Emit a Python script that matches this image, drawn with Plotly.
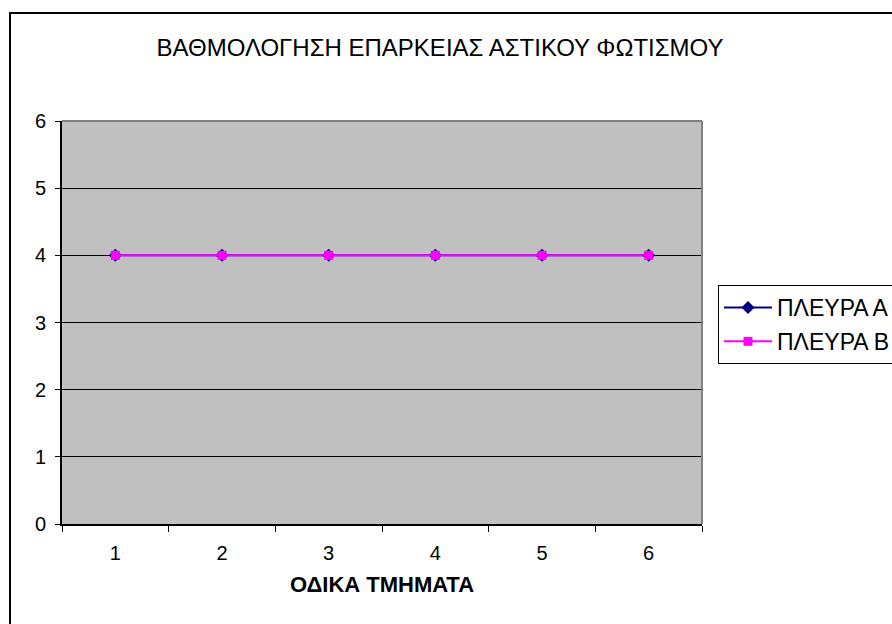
import plotly.graph_objects as go

categories = ["1", "2", "3", "4", "5", "6"]
series_a = [4, 4, 4, 4, 4, 4]
series_b = [4, 4, 4, 4, 4, 4]
name_a = "ΠΛΕΥΡΑ Α"
name_b = "ΠΛΕΥΡΑ Β"
title_text = "ΒΑΘΜΟΛΟΓΗΣΗ ΕΠΑΡΚΕΙΑΣ ΑΣΤΙΚΟΥ ΦΩΤΙΣΜΟΥ"
x_title = "ΟΔΙΚΑ ΤΜΗΜΑΤΑ"
y_ticks = [0, 1, 2, 3, 4, 5, 6]

FONT = "Arial, Liberation Sans, sans-serif"

fig = go.Figure()
fig.add_trace(go.Scatter(
    x=categories, y=series_a, name=name_a, mode="lines+markers",
    legendgroup="a",
    line=dict(color="#000080", width=2),
    marker=dict(symbol="diamond", size=10, color="#000080"),
))
fig.add_trace(go.Scatter(
    x=categories, y=series_b, name=name_b, mode="lines+markers",
    legendgroup="b",
    line=dict(color="#FF00FF", width=2),
    marker=dict(symbol="square", size=9, color="#FF00FF"),
))

W, H = 892, 624
L, R, T, B = 62, 190, 121, 100
pw, ph = W - L - R, H - T - B

def px2x(px):
    return (px - L) / pw

def px2y(py):
    return (H - B - py) / ph

fig.update_layout(
    width=W, height=H,
    margin=dict(l=L, r=R, t=T, b=B),
    paper_bgcolor="white",
    plot_bgcolor="#C0C0C0",
    font=dict(family=FONT, size=20, color="black"),
    title=dict(text=title_text, x=440 / W, xanchor="center",
               y=1 - 48 / H, yanchor="middle", yref="container",
               font=dict(size=24, family=FONT, color="black")),
    showlegend=True,
    legend=dict(xref="container", yref="container",
                x=718 / W, y=1 - 285 / H,
                xanchor="left", yanchor="top",
                bgcolor="white", bordercolor="black", borderwidth=1,
                font=dict(size=23, family=FONT), tracegroupgap=1,
                itemwidth=48),
    xaxis=dict(type="category", range=[-0.5, 5.5], tickson="boundaries",
               ticks="outside", ticklen=6, tickcolor="black", tickwidth=1,
               showline=True, linecolor="black", linewidth=2,
               showgrid=False, zeroline=False, ticklabelstandoff=10,
               tickfont=dict(size=20),
               title=dict(text="<b>" + x_title + "</b>", font=dict(size=22), standoff=14)),
    yaxis=dict(range=[0, 6], tickvals=y_ticks, ticks="outside", ticklen=5,
               tickcolor="black", showline=True, linecolor="black", linewidth=2,
               showgrid=True, gridcolor="black", gridwidth=1, zeroline=False,
               ticklabelstandoff=5, tickfont=dict(size=20)),
)

# plot-area top/right edges (gray)
fig.add_shape(type="line", xref="paper", yref="paper", x0=0, x1=1, y0=1, y1=1,
              line=dict(color="#808080", width=2))
fig.add_shape(type="line", xref="paper", yref="paper", x0=1, x1=1, y0=0, y1=1,
              line=dict(color="#808080", width=2))
# outer chart border
fig.add_shape(type="rect", xref="paper", yref="paper",
              x0=px2x(10), x1=px2x(900), y0=px2y(13), y1=px2y(630),
              line=dict(color="black", width=2), layer="below")

fig.write_html("out.html", config={"displayModeBar": False},
               post_script="document.body.style.margin='0';document.body.style.overflow='hidden';")
